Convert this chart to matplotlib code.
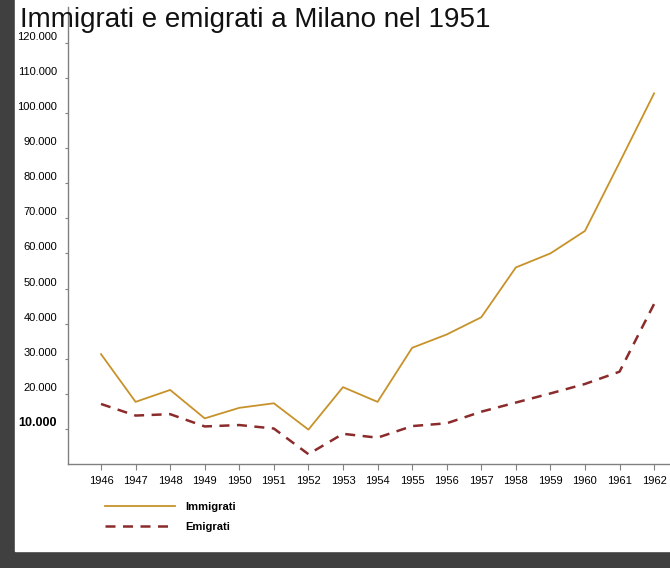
import matplotlib.pyplot as plt
import matplotlib.transforms as mtransforms
from matplotlib.patches import Rectangle

# dati
anni = [1946, 1947, 1948, 1949, 1950, 1951, 1952, 1953, 1954,
        1955, 1956, 1957, 1958, 1959, 1960, 1961, 1962]
immigrati = [31300, 17700, 21100, 13000, 16000, 17300, 9800, 21900, 17700,
             33100, 36900, 41800, 56000, 60000, 66400, 85900, 105600]
emigrati = [17100, 13800, 14200, 10700, 11100, 10100, 2800, 8600, 7500,
            10800, 11600, 14900, 17500, 20100, 22800, 26300, 45600]
y_ticks = [10000, 20000, 30000, 40000, 50000, 60000,
           70000, 80000, 90000, 100000, 110000, 120000]
y_labels = ["10.000", "20.000", "30.000", "40.000", "50.000", "60.000",
            "70.000", "80.000", "90.000", "100.000", "110.000", "120.000"]

plt.rcParams['font.family'] = ['Liberation Sans', 'DejaVu Sans']

fig = plt.figure(figsize=(6.7, 5.68), dpi=100, facecolor='#404040')
# sfondo bianco della slide
fig.patches.append(Rectangle((15 / 670, 1 - 551 / 568), 1, 1,
                             transform=fig.transFigure, color='white', zorder=-10))

ax = fig.add_axes([68 / 670, 1 - 464 / 568, 1 - 68 / 670, (464 - 7) / 568])
ax.set_facecolor('none')
ax.set_zorder(1)

ax.plot(anni, immigrati, color='#C8922A', lw=1.3, label='Immigrati')
ax.plot(anni, emigrati, color='#8B2B2B', lw=1.8, ls=(0, (4, 3)), label='Emigrati')

ax.set_xlim(1945.045, 1962.46)
ax.set_ylim(0, 130200)
ax.set_xticks(anni)
ax.set_xticklabels([str(a) for a in anni], fontsize=8)
ax.set_yticks(y_ticks)
ax.set_yticklabels(y_labels, fontsize=8)

for s in ['top', 'right']:
    ax.spines[s].set_visible(False)
for s in ['left', 'bottom']:
    ax.spines[s].set_color('#808080')
    ax.spines[s].set_linewidth(1.0)

ax.tick_params(axis='x', direction='out', length=4, color='#808080', pad=5)
ax.tick_params(axis='y', direction='out', length=2, color='#808080', pad=6)

# etichette y spostate verso l'alto
offset = mtransforms.ScaledTranslation(0, 0.07, fig.dpi_scale_trans)
for lab in ax.get_yticklabels():
    lab.set_transform(lab.get_transform() + offset)
    if lab.get_text() == "10.000":
        lab.set_fontsize(9)
        lab.set_fontweight('bold')

fig.text(20 / 670, 1 - 27 / 568, "Immigrati e emigrati a Milano nel 1951",
         fontsize=20, va='baseline', ha='left', color='#111111', zorder=5)

leg = ax.legend(loc='upper left', bbox_to_anchor=(95 / 670, 1 - 492 / 568),
                bbox_transform=fig.transFigure, frameon=False,
                handlelength=6.3, handletextpad=0.9, labelspacing=0.9,
                prop={'family': ['Liberation Sans Narrow', 'Liberation Sans'],
                      'weight': 'bold', 'size': 8})

fig.savefig('out.png', dpi=100, facecolor=fig.get_facecolor())
